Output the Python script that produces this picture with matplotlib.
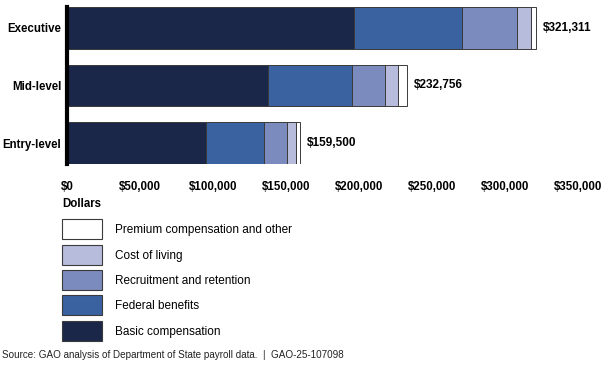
import matplotlib.pyplot as plt
from matplotlib.patches import Rectangle

plt.rcParams['font.family'] = ['Liberation Sans', 'DejaVu Sans']

levels = ['Executive', 'Mid-level', 'Entry-level']
totals = [321311, 232756, 159500]
basic = [196300, 137500, 95500]
federal = [74200, 57500, 39600]
recruit = [37400, 23000, 15600]
living = [10100, 8900, 6300]
premium = [t - b - f - r - c for t, b, f, r, c in zip(totals, basic, federal, recruit, living)]

series = [basic, federal, recruit, living, premium]
names = ['Basic compensation', 'Federal benefits', 'Recruitment and retention',
         'Cost of living', 'Premium compensation and other']
colors = ['#1b2749', '#3a62a0', '#7b8bbd', '#b8bcdc', '#ffffff']
xticks = [0, 50000, 100000, 150000, 200000, 250000, 300000, 350000]

W, H = 604, 365
fig = plt.figure(figsize=(W / 100, H / 100), dpi=100)
ax = fig.add_axes([67 / W, 1 - 164 / H, (578 - 67) / W, (164 - 7) / H])

ypos = list(range(len(levels)))
left = [0] * len(levels)
for vals, col in zip(series, colors):
    ax.barh(ypos, vals, left=left, height=0.73, color=col, edgecolor='#3a3a3a', linewidth=0.7)
    left = [l + v for l, v in zip(left, vals)]

for y, t in zip(ypos, totals):
    ax.text(t + 4500, y, f'${t:,}', va='center', ha='left', fontsize=8.5, fontweight='bold')

ax.set_xlim(0, 350000)
ax.set_ylim(2.365, -0.365)
ax.set_yticks(ypos)
ax.set_yticklabels(levels, fontsize=8.3, fontweight='bold')
ax.set_xticks(xticks)
ax.set_xticklabels([f'${v:,}' for v in xticks], fontsize=8.3, fontweight='bold')
ax.tick_params(axis='y', length=0, pad=4)
ax.tick_params(axis='x', length=0, pad=12)
for s in ['top', 'right', 'bottom']:
    ax.spines[s].set_visible(False)
ax.spines['left'].set_linewidth(3)

fig.text(62 / W, 1 - 204 / H, 'Dollars', fontsize=8.3, fontweight='bold', va='center')

# legend, top to bottom
leg_top = [219, 245, 270, 295, 321]
for i, top in enumerate(leg_top):
    k = len(names) - 1 - i
    fig.patches.append(Rectangle((62 / W, 1 - (top + 20) / H), 40 / W, 20 / H,
                                 transform=fig.transFigure, facecolor=colors[k],
                                 edgecolor='#3a3a3a', linewidth=0.8))
    fig.text(115 / W, 1 - (top + 11) / H, names[k], fontsize=8.5, va='center')

fig.text(2 / W, 1 - 355 / H,
         'Source: GAO analysis of Department of State payroll data.  |  GAO-25-107098',
         fontsize=7.1, va='center', color='#222222')

fig.savefig('out.png', dpi=100)
